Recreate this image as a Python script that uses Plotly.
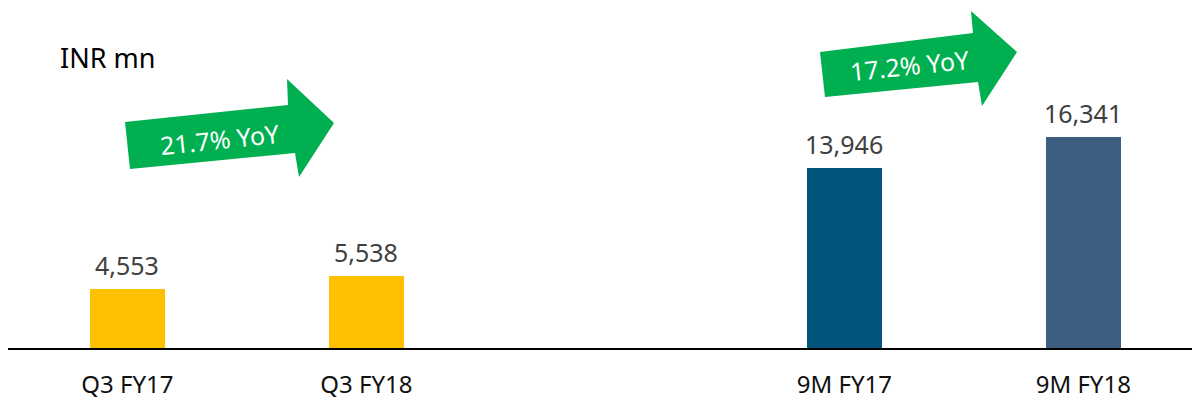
import plotly.graph_objects as go

categories = ["Q3 FY17", "Q3 FY18", " ", "9M FY17", "9M FY18"]
values = [4553, 5538, None, 13946, 16341]
labels = ["4,553", "5,538", "", "13,946", "16,341"]
colors = ["#FFC000", "#FFC000", "#FFFFFF", "#03547A", "#3D5E80"]
growth_labels = ["21.7% YoY", "17.2% YoY"]
unit_label = "INR mn"

FONT = "Noto Sans"
W, H = 1192, 401
L, R, T, B = 8, 0, 0, 53
PW, PH = W - L - R, H - T - B

def px(x):
    return (x - L) / PW

def py(y):
    return (H - B - y) / PH

fig = go.Figure()
fig.add_trace(go.Bar(
    x=categories, y=values, marker=dict(color=colors, line=dict(width=0)),
    width=0.314, hoverinfo="skip",
))

for c, v, t in zip(categories, values, labels):
    if v is None:
        continue
    fig.add_annotation(x=c, y=v, text=t, showarrow=False, yanchor="bottom",
                       xanchor="center", yshift=5,
                       font=dict(family=FONT, size=25, color="#404040"))

def arrow_path(pts):
    return "M " + " L ".join(f"{px(a):.5f},{py(b):.5f}" for a, b in pts) + " Z"

arrows = [
    [(125, 122), (288, 105), (287, 79), (334, 123), (299, 177), (295, 153), (130, 169)],
    [(820, 52), (973, 33), (971, 11), (1017, 52), (982, 106), (978, 82), (825, 97)],
]
text_pos = [(220, 139), (910, 65)]
for pts, (tx, ty), g in zip(arrows, text_pos, growth_labels):
    fig.add_shape(type="path", path=arrow_path(pts), xref="paper", yref="paper",
                  fillcolor="#00B050", line=dict(width=0), layer="above")
    fig.add_annotation(x=px(tx), y=py(ty), xref="paper", yref="paper", text=g,
                       showarrow=False, textangle=-6, xanchor="center", yanchor="middle",
                       font=dict(family=FONT, size=25, color="white"))

fig.add_annotation(x=px(58), y=py(58), xref="paper", yref="paper", text=unit_label,
                   showarrow=False, xanchor="left", yanchor="middle",
                   font=dict(family=FONT, size=27, color="#000000"))

scale = 211 / 16341
fig.update_layout(
    width=W, height=H, margin=dict(l=L, r=R, t=T, b=B),
    paper_bgcolor="white", plot_bgcolor="white", showlegend=False,
    bargap=0,
    xaxis=dict(type="category", range=[-0.5, 4.455], showline=True, linecolor="#000000",
               linewidth=2, ticks="", showgrid=False, zeroline=False, automargin=False,
               tickfont=dict(family=FONT, size=24, color="#111111"),
               ticklabelstandoff=14),
    yaxis=dict(range=[0, PH / scale], visible=False, showgrid=False, zeroline=False,
               automargin=False),
)

fig.write_html("out.html")
